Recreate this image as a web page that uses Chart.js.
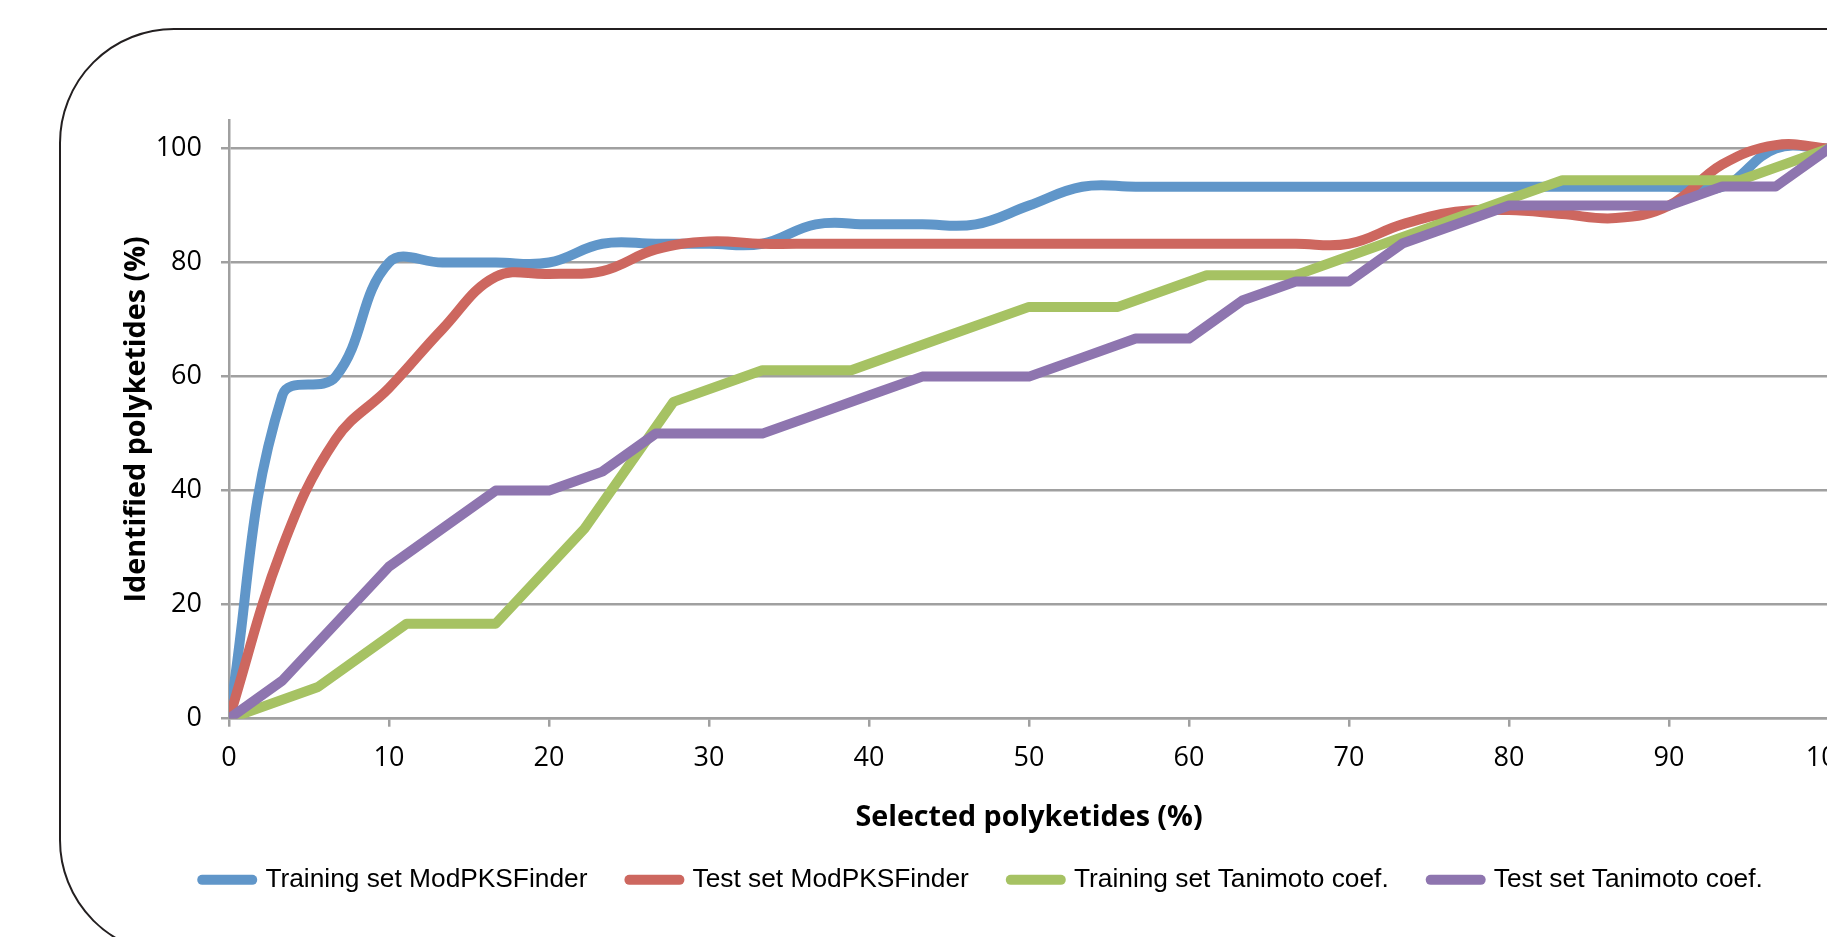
<!DOCTYPE html>
<html>
<head>
<meta charset="utf-8">
<title>Selected vs identified polyketides</title>
<script src="https://cdn.jsdelivr.net/npm/chart.js@4.4.1/dist/chart.umd.min.js"></script>
<style>
  html, body { margin: 0; padding: 0; background: #fff; overflow: hidden; }
  #wrap { position: relative; width: 1827px; height: 937px; overflow: hidden; }
  #frame { position: absolute; left: 59px; top: 28px; width: 2000px; height: 923px;
           border: 2.5px solid #231f20; border-radius: 115px; }
  #chart { position: absolute; left: 0; top: 0; }
</style>
</head>
<body>
<div id="wrap">
  <div id="frame"></div>
  <canvas id="chart" width="2000" height="937"></canvas>
</div>
<script>
// series names, as in the legend
const seriesNames = ['Training set ModPKSFinder', 'Test set ModPKSFinder',
                     'Training set Tanimoto coef.', 'Test set Tanimoto coef.'];
const seriesColors = ['#6096c9', '#cd675f', '#a6c263', '#8e75af'];

// x positions (% selected) - 30 steps and 18 steps
const selected30 = [0, 3.33, 6.67, 10, 13.33, 16.67, 20, 23.33, 26.67, 30, 33.33,
                    36.67, 40, 43.33, 46.67, 50, 53.33, 56.67, 60, 63.33, 66.67,
                    70, 73.33, 76.67, 80, 83.33, 86.67, 90, 93.33, 96.67, 100];
const selected18 = [0, 5.56, 11.11, 16.67, 22.22, 27.78, 33.33, 38.89, 44.44, 50,
                    55.56, 61.11, 66.67, 72.22, 77.78, 83.33, 88.89, 94.44, 100];

// identified polyketides (%)
const trainingModPKS = [0, 56.7, 60, 80, 80, 80, 80, 83.3, 83.3, 83.3, 83.3,
                        86.7, 86.7, 86.7, 86.7, 90, 93.3, 93.3, 93.3, 93.3, 93.3,
                        93.3, 93.3, 93.3, 93.3, 93.3, 93.3, 93.3, 93.3, 100, 100];
const testModPKS = [0, 30, 49, 58, 68.3, 77.5, 78, 78.5, 82.3, 83.7, 83.3,
                    83.3, 83.3, 83.3, 83.3, 83.3, 83.3, 83.3, 83.3, 83.3, 83.3,
                    83.3, 86.7, 88.9, 89.2, 88.5, 87.8, 90, 97.2, 100.6, 100];
const trainingTanimoto = [0, 5.56, 16.67, 16.67, 33.33, 55.56, 61.11, 61.11, 66.67, 72.22,
                          72.22, 77.78, 77.78, 83.33, 88.89, 94.44, 94.44, 94.44, 100];
const testTanimoto = [0, 6.67, 16.67, 26.67, 33.33, 40, 40, 43.33, 50, 50, 50,
                      53.33, 56.67, 60, 60, 60, 63.33, 66.67, 66.67, 73.33, 76.67,
                      76.67, 83.33, 86.67, 90, 90, 90, 90, 93.33, 93.33, 100];

// axis ticks
const xTickStep = 10;
const yTickValues = [0, 20, 40, 60, 80, 100];

function toPoints(xs, ys) {
    return xs.map((x, i) => ({ x: x, y: ys[i] }));
}

function makeSet(i, xs, ys, smooth) {
    return {
        label: seriesNames[i],
        data: toPoints(xs, ys),
        borderColor: seriesColors[i],
        backgroundColor: seriesColors[i],
        borderWidth: 10,
        borderCapStyle: 'round',
        borderJoinStyle: 'round',
        pointRadius: 0,
        pointHoverRadius: 0,
        tension: smooth ? 0.4 : 0,
        order: 4 - i   // later series drawn on top, like the original
    };
}

const tickFont = { family: 'Open Sans', size: 27 };
const titleFont = { family: 'Open Sans', size: 28.7, weight: 'bold' };
const gridGrey = '#a0a0a0';

new Chart(document.getElementById('chart'), {
    type: 'line',
    data: {
        datasets: [
            makeSet(0, selected30, trainingModPKS, true),
            makeSet(1, selected30, testModPKS, true),
            makeSet(2, selected18, trainingTanimoto, false),
            makeSet(3, selected30, testTanimoto, false)
        ]
    },
    options: {
        responsive: false,
        animation: false,
        devicePixelRatio: 1,
        layout: { padding: { left: 136, right: 171, top: 120, bottom: 34 } },
        plugins: {
            legend: {
                position: 'bottom',
                labels: {
                    usePointStyle: true,
                    pointStyle: 'line',
                    pointStyleWidth: 50,
                    padding: 42,
                    color: '#000',
                    font: { family: 'Liberation Sans', size: 26.3 },
                    generateLabels: (chart) =>
                        Chart.defaults.plugins.legend.labels.generateLabels(chart).map(item => {
                            item.lineWidth = 10;
                            item.lineCap = 'round';
                            return item;
                        }),
                    sort: (a, b) => a.datasetIndex - b.datasetIndex
                }
            },
            tooltip: { enabled: false }
        },
        scales: {
            x: {
                type: 'linear',
                min: 0,
                max: 100,
                ticks: { stepSize: xTickStep, color: '#000', font: tickFont, padding: 15 },
                grid: { drawOnChartArea: false, tickLength: 8, color: gridGrey, lineWidth: 2.5 },
                border: { color: gridGrey, width: 2.5 },
                title: { display: true, text: 'Selected polyketides (%)', color: '#000',
                         font: titleFont, padding: { top: 0, bottom: -10.4 } },
                afterFit: (scale) => { scale.height = 106; }
            },
            y: {
                min: 0,
                max: 105,
                ticks: { color: '#000', font: tickFont, padding: 19 },
                afterBuildTicks: (axis) => {
                    axis.ticks = yTickValues.map(v => ({ value: v }));
                },
                grid: { tickLength: 8, color: gridGrey, lineWidth: 2.5 },
                border: { color: gridGrey, width: 2.5 },
                title: { display: true, text: 'Identified polyketides (%)', color: '#000',
                         font: titleFont, padding: { top: -16, bottom: 0 } },
                afterFit: (scale) => { scale.width = 93; }
            }
        }
    }
});
</script>
</body>
</html>
